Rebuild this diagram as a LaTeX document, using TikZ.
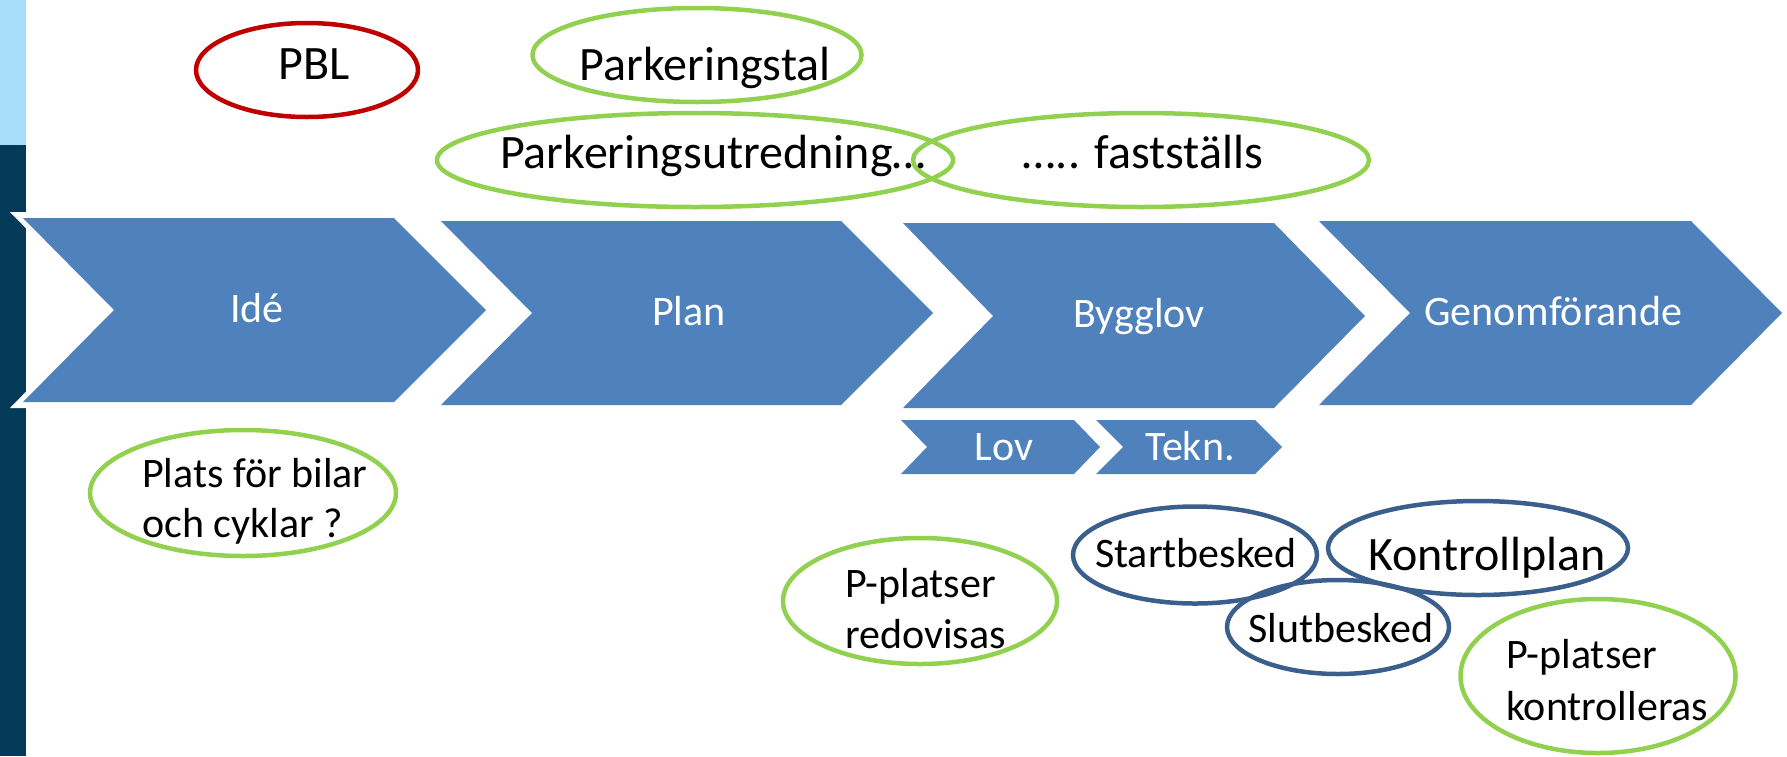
\documentclass[tikz,border=0pt]{standalone}
\usepackage{fontspec}
\setmainfont{Carlito}
\usetikzlibrary{shapes.geometric}
\definecolor{chev}{HTML}{4F81BD}
\definecolor{lgreen}{HTML}{92D050}
\definecolor{dred}{HTML}{C00000}
\definecolor{dblue}{HTML}{3A5F8C}
\definecolor{barlight}{HTML}{A8DEF8}
\definecolor{bardark}{HTML}{033A57}
\tikzset{
  chevfill/.style={fill=chev, draw=none},
  ring/.style={ellipse, draw, line width=4.5pt, inner sep=0pt},
  gring/.style={ring, draw=lgreen},
  rring/.style={ring, draw=dred},
  bring/.style={ring, draw=dblue},
  wtxt/.style={text=white, anchor=base, inner sep=0pt, font=\fontsize{42}{50}\selectfont},
  btxt/.style={text=black, anchor=base, inner sep=0pt, font=\fontsize{42}{50}\selectfont},
  bigtxt/.style={text=black, anchor=base, inner sep=0pt, font=\fontsize{48}{58}\selectfont},
}
\begin{document}
\begin{tikzpicture}[x=1pt,y=-1pt]
\useasboundingbox (0,0) rectangle (1787,756);
% left bar
\fill[barlight] (0,0) rectangle (26,145);
\fill[bardark] (0,145) rectangle (26,756);
% white outline of first chevron
\fill[white] (10,212) -- (400,212) -- (492,310) -- (400,408) -- (10,408) -- (106,310) -- cycle;
% chevrons
\fill[chevfill] (23,218) -- (394,218) -- (486,310) -- (394,402) -- (23,402) -- (114,310) -- cycle;
\fill[chevfill] (441,221) -- (841,221) -- (933,313) -- (841,405) -- (441,405) -- (532,313) -- cycle;
\fill[chevfill] (903,223) -- (1274,223) -- (1365,316) -- (1274,408) -- (903,408) -- (993,316) -- cycle;
\fill[chevfill] (1319,221) -- (1691,221) -- (1782,313) -- (1691,405) -- (1319,405) -- (1410,313) -- cycle;
\fill[chevfill] (901,420) -- (1074,420) -- (1100,447) -- (1074,474) -- (901,474) -- (927,447) -- cycle;
\fill[chevfill] (1096,420) -- (1255,420) -- (1282,447) -- (1255,474) -- (1096,474) -- (1123,447) -- cycle;
\node[wtxt] (ide) at (257,322) {Idé};
\node[wtxt] (plan) at (689,325) {Plan};
\node[wtxt] (bygglov) at (1139,327) {Bygglov};
\node[wtxt] (genomf) at (1553,325) {Genomförande};
\node[wtxt] (lov) at (1004,460) {Lov};
\node[wtxt] (tekn) at (1190,460) {Tekn.};
% ellipses
\node[rring, minimum width=222pt, minimum height=94pt] (pbl) at (307,70) {};
\node[bigtxt] (pbl-t) at (314,79) {PBL};
\node[gring, minimum width=329pt, minimum height=94pt] (ptal) at (697,55) {};
\node[bigtxt] (ptal-t) at (705,80) {Parkeringstal};
\node[gring, minimum width=516pt, minimum height=94pt] (putr) at (695,160) {};
\node[gring, minimum width=456pt, minimum height=94pt] (fast) at (1141,160) {};
\node[bigtxt] (putr-t) at (713,168) {Parkeringsutredning…};
\node[bigtxt] (fast-t) at (1143,168) {….. fastställs};
\node[gring, minimum width=306pt, minimum height=126pt] (plats) at (243,493) {};
\node[btxt, anchor=base west] (plats-t1) at (142,487) {Plats för bilar};
\node[btxt, anchor=base west] (plats-t2) at (142,537) {och cyklar ?};
\node[gring, minimum width=274pt, minimum height=126pt] (pred) at (920,601) {};
\node[btxt, anchor=base west] (pred-t1) at (845,597) {P-platser};
\node[btxt, anchor=base west] (pred-t2) at (845,648) {redovisas};
\node[bring, minimum width=244pt, minimum height=97pt] (start) at (1195,555) {};
\node[btxt] (start-t) at (1196,567) {Startbesked};
\node[bring, minimum width=300pt, minimum height=94pt] (kplan) at (1478,548) {};
\node[bigtxt] (kplan-t) at (1487,570) {Kontrollplan};
\node[bring, minimum width=222pt, minimum height=94pt] (slut) at (1338,627) {};
\node[btxt] (slut-t) at (1341,642) {Slutbesked};
\node[gring, minimum width=275pt, minimum height=154pt] (pkon) at (1598,676) {};
\node[btxt, anchor=base west] (pkon-t1) at (1506,668) {P-platser};
\node[btxt, anchor=base west] (pkon-t2) at (1506,720) {kontrolleras};
\end{tikzpicture}
\end{document}
